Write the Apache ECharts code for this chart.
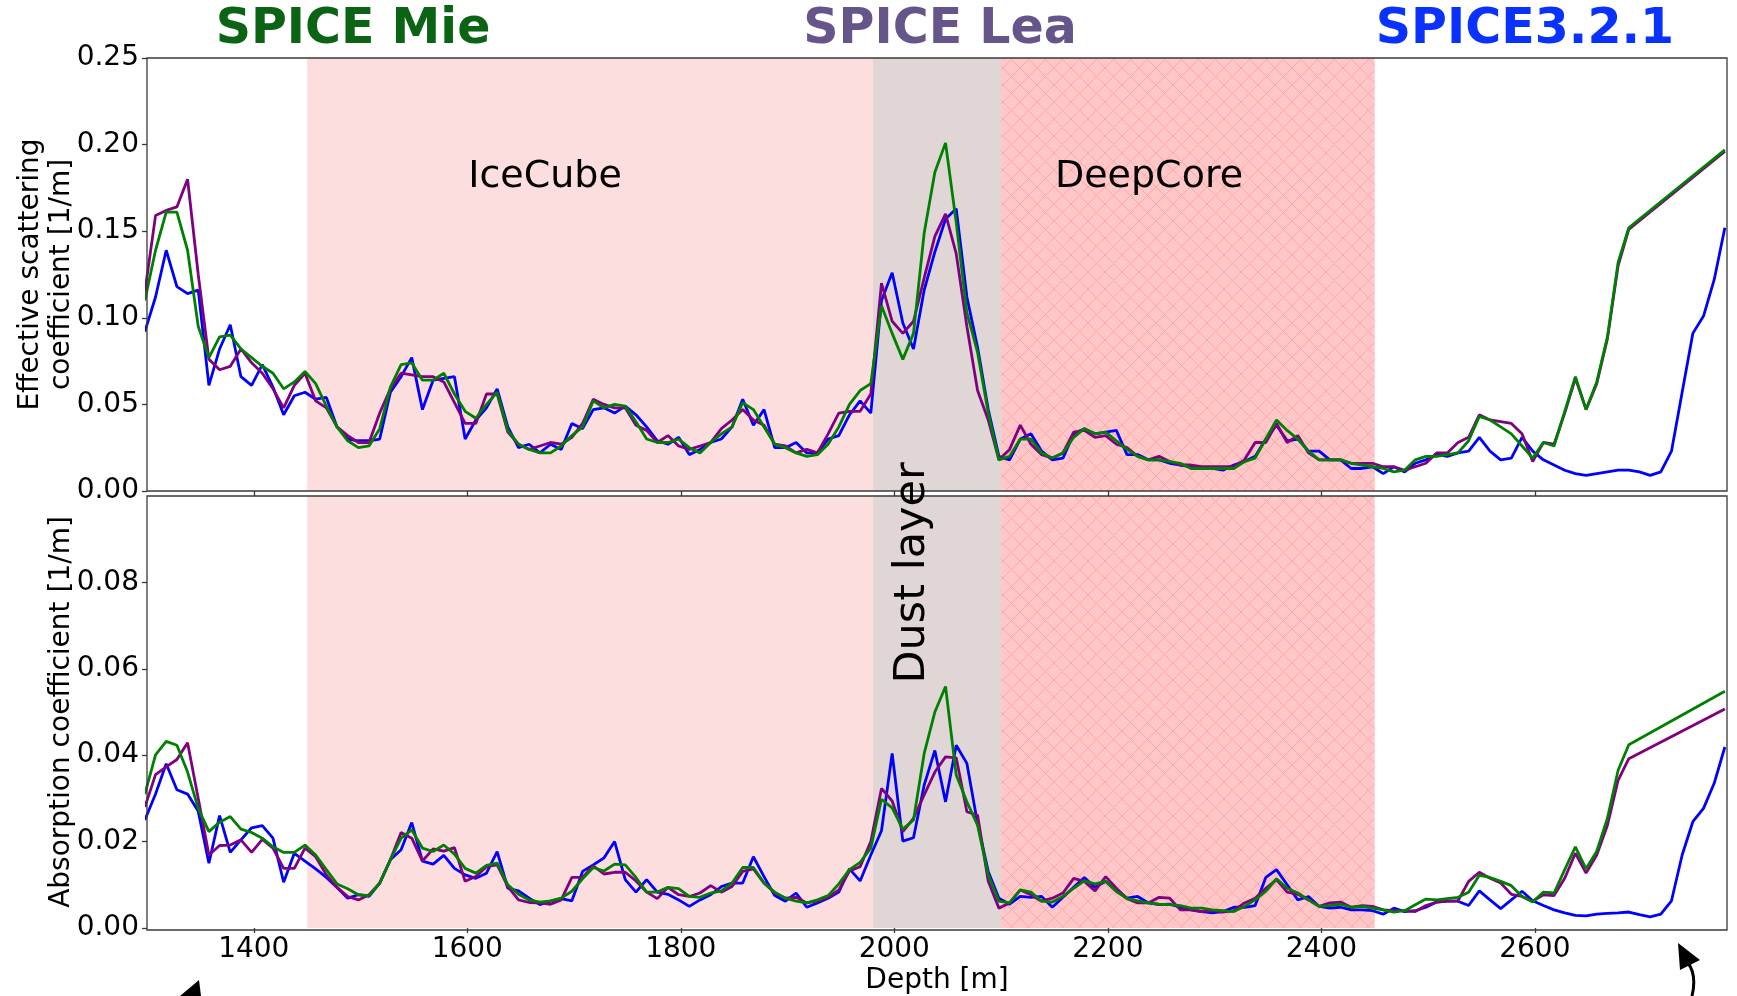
<!DOCTYPE html>
<html>
<head>
<meta charset="utf-8">
<script src="https://cdn.jsdelivr.net/npm/echarts@6/dist/echarts.min.js"></script>
<style>
html, body { margin: 0; padding: 0; background: #fff; }
#chart { width: 1737px; height: 996px; }
</style>
</head>
<body>
<div id="chart"></div>
<script>
// depth grid of the layers [m]
const depth = [
  1298, 1308, 1318, 1328, 1338, 1348, 1358, 1368, 1378, 1388,
  1398, 1408, 1418, 1428, 1438, 1448, 1458, 1468, 1478, 1488,
  1498, 1508, 1518, 1528, 1538, 1548, 1558, 1568, 1578, 1588,
  1598, 1608, 1618, 1628, 1638, 1648, 1658, 1668, 1678, 1688,
  1698, 1708, 1718, 1728, 1738, 1748, 1758, 1768, 1778, 1788,
  1798, 1808, 1818, 1828, 1838, 1848, 1858, 1868, 1878, 1888,
  1898, 1908, 1918, 1928, 1938, 1948, 1958, 1968, 1978, 1988,
  1998, 2008, 2018, 2028, 2038, 2048, 2058, 2068, 2078, 2088,
  2098, 2108, 2118, 2128, 2138, 2148, 2158, 2168, 2178, 2188,
  2198, 2208, 2218, 2228, 2238, 2248, 2258, 2268, 2278, 2288,
  2298, 2308, 2318, 2328, 2338, 2348, 2358, 2368, 2378, 2388,
  2398, 2408, 2418, 2428, 2438, 2448, 2458, 2468, 2478, 2488,
  2498, 2508, 2518, 2528, 2538, 2548, 2558, 2568, 2578, 2588,
  2598, 2608, 2618, 2628, 2638, 2648, 2658, 2668, 2678, 2688,
  2698, 2708, 2718, 2728, 2738, 2748, 2758, 2768, 2778
];

// effective scattering coefficient [1/m]
const scatSpice321 = [
  0.092, 0.112, 0.139, 0.118, 0.114, 0.116, 0.061, 0.082, 0.096, 0.066,
  0.061, 0.073, 0.060, 0.044, 0.055, 0.057, 0.053, 0.054, 0.037, 0.030,
  0.029, 0.029, 0.030, 0.057, 0.066, 0.077, 0.047, 0.064, 0.065, 0.066,
  0.030, 0.041, 0.048, 0.059, 0.037, 0.025, 0.027, 0.022, 0.027, 0.024,
  0.039, 0.036, 0.047, 0.048, 0.045, 0.049, 0.044, 0.037, 0.029, 0.027,
  0.031, 0.021, 0.024, 0.028, 0.030, 0.037, 0.053, 0.038, 0.047, 0.025,
  0.025, 0.028, 0.022, 0.022, 0.030, 0.032, 0.044, 0.052, 0.045, 0.110,
  0.126, 0.097, 0.082, 0.116, 0.138, 0.157, 0.163, 0.112, 0.083, 0.047,
  0.020, 0.018, 0.030, 0.033, 0.023, 0.018, 0.019, 0.033, 0.036, 0.033,
  0.034, 0.035, 0.021, 0.021, 0.018, 0.018, 0.016, 0.015, 0.014, 0.013,
  0.013, 0.012, 0.015, 0.017, 0.020, 0.030, 0.038, 0.029, 0.030, 0.023,
  0.023, 0.018, 0.018, 0.013, 0.013, 0.014, 0.010, 0.014, 0.011, 0.016,
  0.018, 0.021, 0.020, 0.022, 0.023, 0.031, 0.023, 0.018, 0.019, 0.031,
  0.023, 0.018, 0.015, 0.012, 0.010, 0.009, 0.010, 0.011, 0.012, 0.012,
  0.011, 0.009, 0.011, 0.023, 0.057, 0.091, 0.101, 0.122, 0.152
];
const scatLea = [
  0.115, 0.159, 0.162, 0.164, 0.180, 0.125, 0.076, 0.070, 0.072, 0.082,
  0.074, 0.068, 0.059, 0.048, 0.061, 0.068, 0.052, 0.048, 0.037, 0.032,
  0.028, 0.028, 0.045, 0.059, 0.068, 0.067, 0.066, 0.066, 0.063, 0.051,
  0.039, 0.039, 0.056, 0.056, 0.034, 0.027, 0.024, 0.026, 0.028, 0.027,
  0.031, 0.039, 0.053, 0.050, 0.048, 0.048, 0.038, 0.035, 0.028, 0.032,
  0.026, 0.024, 0.026, 0.028, 0.036, 0.041, 0.047, 0.041, 0.038, 0.027,
  0.026, 0.022, 0.024, 0.022, 0.033, 0.045, 0.046, 0.046, 0.056, 0.120,
  0.098, 0.091, 0.098, 0.123, 0.147, 0.160, 0.137, 0.095, 0.058, 0.041,
  0.018, 0.024, 0.038, 0.027, 0.021, 0.019, 0.022, 0.034, 0.035, 0.031,
  0.032, 0.027, 0.025, 0.020, 0.018, 0.020, 0.017, 0.015, 0.015, 0.014,
  0.014, 0.014, 0.014, 0.018, 0.028, 0.028, 0.039, 0.028, 0.032, 0.022,
  0.018, 0.018, 0.018, 0.016, 0.016, 0.016, 0.014, 0.014, 0.012, 0.014,
  0.016, 0.022, 0.022, 0.028, 0.031, 0.044, 0.041, 0.040, 0.039, 0.033,
  0.017, 0.028, 0.027, 0.045, 0.065, 0.047, 0.062, 0.088, 0.130, 0.151,
  null, null, null, null, null, null, null, null, 0.196
];
const scatMie = [
  0.110, 0.139, 0.161, 0.161, 0.139, 0.095, 0.077, 0.089, 0.090, 0.082,
  0.077, 0.072, 0.068, 0.059, 0.063, 0.069, 0.062, 0.049, 0.037, 0.029,
  0.025, 0.026, 0.036, 0.060, 0.073, 0.074, 0.064, 0.064, 0.068, 0.056,
  0.046, 0.042, 0.050, 0.057, 0.035, 0.027, 0.024, 0.022, 0.022, 0.026,
  0.032, 0.037, 0.052, 0.048, 0.050, 0.049, 0.040, 0.030, 0.028, 0.028,
  0.030, 0.025, 0.022, 0.028, 0.033, 0.037, 0.051, 0.047, 0.037, 0.027,
  0.025, 0.022, 0.020, 0.021, 0.027, 0.037, 0.050, 0.058, 0.062, 0.107,
  0.091, 0.076, 0.091, 0.149, 0.184, 0.201, 0.155, 0.103, 0.080, 0.045,
  0.018, 0.020, 0.030, 0.030, 0.022, 0.019, 0.022, 0.031, 0.036, 0.033,
  0.034, 0.029, 0.024, 0.020, 0.018, 0.018, 0.017, 0.016, 0.013, 0.013,
  0.013, 0.013, 0.013, 0.017, 0.019, 0.030, 0.041, 0.035, 0.030, 0.023,
  0.018, 0.018, 0.018, 0.016, 0.015, 0.014, 0.013, 0.011, 0.012, 0.018,
  0.020, 0.020, 0.021, 0.022, 0.029, 0.043, 0.041, 0.037, 0.033, 0.026,
  0.019, 0.028, 0.026, 0.046, 0.066, 0.047, 0.063, 0.089, 0.132, 0.152,
  null, null, null, null, null, null, null, null, 0.197
];

// absorption coefficient [1/m]
const absSpice321 = [
  0.0250, 0.0310, 0.0380, 0.0320, 0.0310, 0.0270, 0.0150, 0.0260, 0.0175, 0.0204,
  0.0232, 0.0237, 0.0208, 0.0106, 0.0173, 0.0155, 0.0137, 0.0117, 0.0094, 0.0069,
  0.0077, 0.0073, 0.0104, 0.0158, 0.0181, 0.0244, 0.0155, 0.0148, 0.0168, 0.0138,
  0.0123, 0.0115, 0.0127, 0.0177, 0.0092, 0.0086, 0.0069, 0.0054, 0.0062, 0.0068,
  0.0063, 0.0131, 0.0146, 0.0162, 0.0200, 0.0112, 0.0083, 0.0112, 0.0083, 0.0078,
  0.0065, 0.0050, 0.0065, 0.0077, 0.0096, 0.0104, 0.0104, 0.0165, 0.0119, 0.0075,
  0.0062, 0.0081, 0.0048, 0.0058, 0.0069, 0.0083, 0.0137, 0.0109, 0.0169, 0.0225,
  0.0404, 0.0201, 0.0209, 0.0331, 0.0411, 0.0292, 0.0423, 0.0381, 0.0242, 0.0131,
  0.0069, 0.0055, 0.0073, 0.0071, 0.0073, 0.0048, 0.0071, 0.0094, 0.0117, 0.0094,
  0.0108, 0.0085, 0.0069, 0.0073, 0.0058, 0.0054, 0.0055, 0.0048, 0.0042, 0.0038,
  0.0035, 0.0038, 0.0048, 0.0048, 0.0052, 0.0117, 0.0135, 0.0100, 0.0065, 0.0073,
  0.0050, 0.0046, 0.0048, 0.0042, 0.0042, 0.0040, 0.0032, 0.0046, 0.0038, 0.0040,
  0.0048, 0.0060, 0.0062, 0.0062, 0.0052, 0.0086, 0.0065, 0.0045, 0.0065, 0.0085,
  0.0063, 0.0052, 0.0042, 0.0035, 0.0029, 0.0028, 0.0032, 0.0034, 0.0035, 0.0037,
  0.0031, 0.0026, 0.0032, 0.0063, 0.0169, 0.0246, 0.0277, 0.0335, 0.0419
];
const absLea = [
  0.0280, 0.0355, 0.0373, 0.0390, 0.0429, 0.0300, 0.0169, 0.0191, 0.0192, 0.0204,
  0.0175, 0.0205, 0.0185, 0.0138, 0.0138, 0.0185, 0.0165, 0.0123, 0.0094, 0.0073,
  0.0065, 0.0077, 0.0104, 0.0158, 0.0221, 0.0208, 0.0155, 0.0183, 0.0178, 0.0186,
  0.0108, 0.0119, 0.0142, 0.0146, 0.0096, 0.0065, 0.0059, 0.0058, 0.0055, 0.0065,
  0.0117, 0.0117, 0.0144, 0.0125, 0.0129, 0.0129, 0.0109, 0.0083, 0.0068, 0.0094,
  0.0077, 0.0073, 0.0081, 0.0098, 0.0083, 0.0096, 0.0131, 0.0137, 0.0104, 0.0081,
  0.0069, 0.0071, 0.0058, 0.0062, 0.0071, 0.0088, 0.0132, 0.0142, 0.0200, 0.0323,
  0.0294, 0.0223, 0.0254, 0.0308, 0.0361, 0.0396, 0.0394, 0.0269, 0.0261, 0.0108,
  0.0046, 0.0058, 0.0088, 0.0077, 0.0062, 0.0069, 0.0081, 0.0115, 0.0108, 0.0086,
  0.0119, 0.0092, 0.0068, 0.0058, 0.0058, 0.0071, 0.0069, 0.0042, 0.0042, 0.0038,
  0.0040, 0.0037, 0.0040, 0.0058, 0.0069, 0.0092, 0.0112, 0.0083, 0.0078, 0.0065,
  0.0050, 0.0058, 0.0060, 0.0048, 0.0052, 0.0050, 0.0042, 0.0040, 0.0040, 0.0038,
  0.0052, 0.0060, 0.0062, 0.0063, 0.0108, 0.0129, 0.0115, 0.0104, 0.0078, 0.0073,
  0.0062, 0.0077, 0.0075, 0.0115, 0.0173, 0.0127, 0.0169, 0.0238, 0.0342, 0.0392,
  null, null, null, null, null, null, null, null, 0.0507
];
const absMie = [
  0.0310, 0.0401, 0.0432, 0.0423, 0.0361, 0.0277, 0.0223, 0.0245, 0.0258, 0.0229,
  0.0221, 0.0208, 0.0188, 0.0175, 0.0175, 0.0192, 0.0169, 0.0135, 0.0102, 0.0091,
  0.0077, 0.0075, 0.0104, 0.0158, 0.0208, 0.0227, 0.0185, 0.0177, 0.0192, 0.0171,
  0.0138, 0.0127, 0.0145, 0.0150, 0.0100, 0.0078, 0.0065, 0.0060, 0.0063, 0.0069,
  0.0085, 0.0114, 0.0140, 0.0132, 0.0148, 0.0146, 0.0117, 0.0083, 0.0083, 0.0094,
  0.0091, 0.0073, 0.0071, 0.0081, 0.0086, 0.0104, 0.0140, 0.0140, 0.0104, 0.0083,
  0.0069, 0.0062, 0.0058, 0.0065, 0.0075, 0.0102, 0.0135, 0.0152, 0.0185, 0.0298,
  0.0278, 0.0229, 0.0250, 0.0404, 0.0500, 0.0559, 0.0354, 0.0292, 0.0238, 0.0123,
  0.0062, 0.0058, 0.0088, 0.0083, 0.0062, 0.0060, 0.0073, 0.0092, 0.0109, 0.0102,
  0.0108, 0.0085, 0.0068, 0.0063, 0.0058, 0.0055, 0.0054, 0.0052, 0.0046, 0.0046,
  0.0042, 0.0040, 0.0038, 0.0050, 0.0065, 0.0085, 0.0114, 0.0092, 0.0081, 0.0065,
  0.0050, 0.0052, 0.0055, 0.0048, 0.0050, 0.0046, 0.0042, 0.0037, 0.0040, 0.0054,
  0.0067, 0.0065, 0.0068, 0.0071, 0.0083, 0.0122, 0.0117, 0.0108, 0.0098, 0.0073,
  0.0060, 0.0083, 0.0081, 0.0135, 0.0188, 0.0137, 0.0178, 0.0254, 0.0365, 0.0424,
  null, null, null, null, null, null, null, null, 0.0548
];

// regions [m]
const iceCubeRange = [1450, 1980];
const dustRange = [1980, 2100];
const deepCoreRange = [2100, 2450];

const xTicks = [1400, 1600, 1800, 2000, 2200, 2400, 2600];
const scatTicks = [0, 0.05, 0.10, 0.15, 0.20, 0.25];
const absTicks = [0, 0.02, 0.04, 0.06, 0.08];

const FONT = 'DejaVu Sans';
const AXIS_COLOR = '#3a3a3a';
const L = 147, W = 1580;
const TOP1 = 58, H1 = 433, TOP2 = 496, H2 = 434;

// crosshatch tile for the DeepCore band
function makeHatch() {
  const s = 17;
  const c = document.createElement('canvas');
  c.width = s; c.height = s;
  const g = c.getContext('2d');
  g.fillStyle = '#ffc7c7';
  g.fillRect(0, 0, s, s);
  g.strokeStyle = '#ffa6a6';
  g.lineWidth = 1;
  g.beginPath();
  g.moveTo(-2, -2); g.lineTo(s + 2, s + 2);
  g.moveTo(s + 2, -2); g.lineTo(-2, s + 2);
  g.stroke();
  return c;
}
const hatch = makeHatch();

function pairs(vals) {
  return depth.map((d, i) => [d, vals[i]]);
}

const chart = echarts.init(document.getElementById('chart'));

function xAxisFor(gridIndex, showLabels) {
  return {
    type: 'value', gridIndex: gridIndex, min: 1300, max: 2780,
    axisLine: { show: false },
    splitLine: { show: false },
    axisTick: { show: true, length: 5, customValues: xTicks, lineStyle: { color: AXIS_COLOR, width: 1.3 } },
    axisLabel: {
      show: showLabels, customValues: xTicks, margin: 8, fontSize: 28, fontFamily: FONT, color: '#000',
      formatter: v => String(v)
    },
    name: showLabels ? 'Depth [m]' : '',
    nameLocation: 'middle', nameGap: 39, nameMoveOverlap: false,
    nameTextStyle: { fontSize: 28, fontFamily: FONT, color: '#000' }
  };
}

function yAxisFor(gridIndex, max, ticks, name) {
  return {
    type: 'value', gridIndex: gridIndex, min: 0, max: max,
    axisLine: { show: false },
    splitLine: { show: false },
    axisTick: { show: true, length: 5, customValues: ticks, lineStyle: { color: AXIS_COLOR, width: 1.3 } },
    axisLabel: {
      customValues: ticks, margin: 8, fontSize: 28, fontFamily: FONT, color: '#000',
      formatter: v => Number(v).toFixed(2)
    },
    name: name, nameLocation: 'middle', nameGap: 70, nameRotate: 90, nameMoveOverlap: false,
    nameTextStyle: { fontSize: 28, lineHeight: 31, fontFamily: FONT, color: '#000', align: 'center' }
  };
}

function bands(gridIndex) {
  return {
    type: 'line', xAxisIndex: gridIndex, yAxisIndex: gridIndex, data: [], z: 1, silent: true,
    markArea: {
      silent: true,
      data: [
        [{ xAxis: iceCubeRange[0], itemStyle: { color: '#fddede' } }, { xAxis: iceCubeRange[1] }],
        [{ xAxis: dustRange[0], itemStyle: { color: '#e1d6d6' } }, { xAxis: dustRange[1] }],
        [{ xAxis: deepCoreRange[0], itemStyle: { color: { image: hatch, repeat: 'repeat' } } }, { xAxis: deepCoreRange[1] }]
      ]
    }
  };
}

function line(name, gridIndex, vals, color) {
  return {
    name: name, type: 'line', xAxisIndex: gridIndex, yAxisIndex: gridIndex,
    data: pairs(vals), showSymbol: false, symbol: 'none', connectNulls: true, clip: true, z: 3,
    lineStyle: { color: color, width: 2.8 }, itemStyle: { color: color }
  };
}

function centerText(text, x, y, size, color, weight, rot) {
  return {
    type: 'text', x: x, y: y, rotation: rot || 0, z: 100, silent: true,
    style: {
      text: text, fill: color, font: (weight || 'normal') + ' ' + size + 'px "' + FONT + '"',
      align: 'center', verticalAlign: 'middle', textAlign: 'center', textVerticalAlign: 'middle'
    }
  };
}

const option = {
  animation: false,
  backgroundColor: '#ffffff',
  grid: [
    { left: L, top: TOP1, width: W, height: H1 },
    { left: L, top: TOP2, width: W, height: H2 }
  ],
  xAxis: [xAxisFor(0, false), xAxisFor(1, true)],
  yAxis: [
    yAxisFor(0, 0.25, scatTicks, 'Effective scattering\ncoefficient [1/m]'),
    yAxisFor(1, 0.10, absTicks, 'Absorption coefficient [1/m]')
  ],
  series: [
    bands(0), bands(1),
    line('SPICE3.2.1', 0, scatSpice321, '#0000ff'),
    line('SPICE Lea', 0, scatLea, '#800080'),
    line('SPICE Mie', 0, scatMie, '#008000'),
    line('SPICE3.2.1', 1, absSpice321, '#0000ff'),
    line('SPICE Lea', 1, absLea, '#800080'),
    line('SPICE Mie', 1, absMie, '#008000')
  ],
  graphic: [
    { type: 'rect', z: 90, silent: true, shape: { x: L, y: TOP1, width: W, height: H1 },
      style: { fill: 'none', stroke: AXIS_COLOR, lineWidth: 1.3 } },
    { type: 'rect', z: 90, silent: true, shape: { x: L, y: TOP2, width: W, height: H2 },
      style: { fill: 'none', stroke: AXIS_COLOR, lineWidth: 1.3 } },
    centerText('SPICE Mie', 353, 30, 49, '#0a6414', 'bold'),
    centerText('SPICE Lea', 940, 30, 49, '#66558a', 'bold'),
    centerText('SPICE3.2.1', 1525, 30, 49, '#0a32ff', 'bold'),
    centerText('IceCube', 545, 177, 38, '#000'),
    centerText('DeepCore', 1149, 177, 38, '#000'),
    centerText('Dust layer', 913, 573, 43, '#000', 'normal', Math.PI / 2),
    { type: 'polygon', z: 100, silent: true, shape: { points: [[180, 996], [199, 980], [201, 996]] },
      style: { fill: '#000' } },
    { type: 'polygon', z: 100, silent: true, shape: { points: [[1678, 943], [1700, 960], [1680, 970]] },
      style: { fill: '#000' } },
    { type: 'bezierCurve', z: 100, silent: true,
      shape: { x1: 1688, y1: 963, x2: 1692, y2: 996, cpx1: 1697, cpy1: 975 },
      style: { stroke: '#000', lineWidth: 3, fill: 'none' } }
  ]
};

chart.setOption(option);
</script>
</body>
</html>
